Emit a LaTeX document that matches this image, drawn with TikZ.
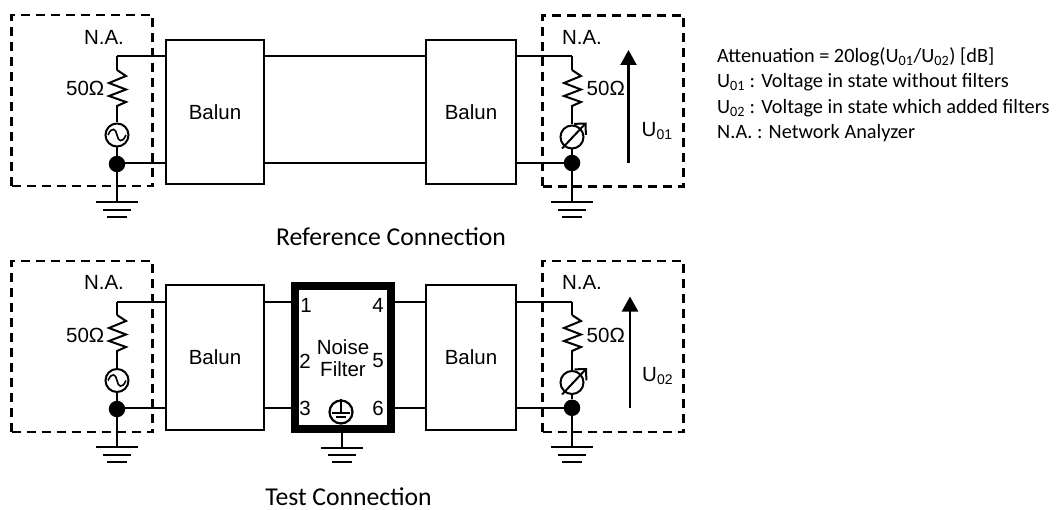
\documentclass[tikz,border=0pt]{standalone}
\usepackage{fontspec}
\setmainfont{Liberation Sans}
\newfontfamily\calibri{Carlito}
\usetikzlibrary{arrows.meta,calc}
\tikzset{
  x=1pt,y=-1pt,
  wire/.style={draw=black,line width=2pt},
  nabox/.style={draw=black,line width=2.4pt,dash pattern=on 9pt off 6pt,fill=none,inner sep=0pt,minimum width=141pt,minimum height=171pt},
  balunbox/.style={draw=black,line width=2.3pt,fill=white,inner sep=0pt,minimum height=144.5pt,font=\fontsize{20.5}{24}\selectfont},
  filterbox/.style={draw=black,line width=8pt,fill=white,inner sep=0pt,minimum width=96pt,minimum height=143pt},
  lab/.style={inner sep=0pt,font=\fontsize{20.5}{24}\selectfont},
  caption/.style={inner sep=0pt,font=\calibri\fontsize{25.7}{30}\selectfont},
  srcnode/.style={circle,draw=black,line width=2pt,fill=white,minimum size=23pt,inner sep=0pt},
  dot/.style={circle,fill=black,minimum size=16.5pt,inner sep=0pt},
  gnd/.pic={
    \draw[wire] (-21,0)--(21,0);
    \draw[wire] (-14,7.5)--(14,7.5);
    \draw[wire] (-10,14.5)--(10,14.5);
  },
  sinewave/.pic={\draw[line width=1.6pt] (-9,0) .. controls (-5,-9) and (-1,-6) .. (0,0) .. controls (1,6) and (5,9) .. (9,0);},
  resist/.pic={\draw[wire,line join=miter] (0,0)--(9,6)--(-8,13)--(9,19.5)--(-8,26)--(9,32)--(0,36)--(0,38);},
  upperarrow/.style={line width=2.3pt,-{Triangle[length=15pt,width=16pt]}},
  meterarrow/.style={line width=2pt,-{Straight Barb[length=8pt,width=16pt,line width=2pt]}},
}
\newcommand{\sourcebranch}[6]{%
  \coordinate (#1top) at (#2,#3);
  \coordinate (#1rt) at (#2,#6);
  \coordinate (#1rb) at (#2,{#6+38});
  \node[srcnode] (#1src) at (#2,{#6+#5}) {};
  \node[dot] (#1dot) at (#2,#4) {};
  \coordinate (#1g) at (#2,{#6+132.3});
  \draw[wire] (#1top)--(#1rt);
  \pic at (#1rt) {resist};
  \draw[wire] (#1rb)--(#1src);
  \draw[wire] (#1src)--(#1dot);
  \draw[wire] (#1dot)--(#1g);
  \pic at (#1g) {gnd};
}
\begin{document}
\begin{tikzpicture}
\useasboundingbox (0,0) rectangle (1056,510);
\fill[white] (0,0) rectangle (1056,510);

% --- top row
\coordinate (wAt) at (0,55.8);
\coordinate (wAb) at (0,162.7);
\node[nabox] (naA) at (82,100.5) {};
\node[nabox] (naB) at (613,101) {};
\node[balunbox,minimum width=97.5pt] (balA) at (215,112) {Balun};
\node[balunbox,minimum width=90.5pt] (balB) at (471,112) {Balun};
\sourcebranch{a}{117}{55.8}{164}{65}{70}
\sourcebranch{b}{572}{55.8}{163}{67}{70}
\draw[wire] (atop)--(atop-|balA.west);
\draw[wire] (wAb-|adot)--(wAb-|balA.west);
\draw[wire] (balA.east|-wAt)--(balB.west|-wAt);
\draw[wire] (balA.east|-wAb)--(balB.west|-wAb);
\draw[wire] (balB.east|-btop)--(btop);
\draw[wire] (balB.east|-wAb)--(wAb-|bdot);
\pic at (asrc) {sinewave};
\draw[meterarrow] ($(bsrc)+(-10,11.5)$) -- ($(bsrc)+(14.5,-14.5)$);
\node[lab] (naAl) at (104,37) {N.A.};
\node[lab] (naBl) at (582,37) {N.A.};
\node[lab,anchor=east] (rA) at (104.5,88) {50Ω};
\node[lab,anchor=west] (rB) at (586.5,88) {50Ω};
\coordinate (uAb) at (628.5,163);
\coordinate (uAt) at (628.5,50);
\draw[upperarrow] (uAb)--(uAt);
\node[lab,anchor=west] (uA) at (641.5,131) {U\textsubscript{\fontsize{14}{14}\selectfont 01}};
\node[caption] (capA) at (391,237) {Reference Connection};

% --- bottom row
\coordinate (wCt) at (0,301.8);
\coordinate (wCb) at (0,407.8);
\node[nabox] (naC) at (82,346.3) {};
\node[nabox] (naD) at (613,346.3) {};
\node[balunbox,minimum width=97.5pt] (balC) at (215,357.5) {Balun};
\node[balunbox,minimum width=90.5pt] (balD) at (471,357.5) {Balun};
\node[filterbox] (flt) at (343,357.5) {};
\sourcebranch{c}{117}{301.8}{409}{65.5}{315}
\sourcebranch{d}{572}{301.8}{407.8}{67.5}{315}
\draw[wire] (ctop)--(ctop-|balC.west);
\draw[wire] (wCb-|cdot)--(wCb-|balC.west);
\draw[wire] (balC.east|-wCt)--(flt.west|-wCt);
\draw[wire] (balC.east|-wCb)--(flt.west|-wCb);
\draw[wire] (flt.east|-wCt)--(balD.west|-wCt);
\draw[wire] (flt.east|-wCb)--(balD.west|-wCb);
\draw[wire] (balD.east|-dtop)--(dtop);
\draw[wire] (balD.east|-wCb)--(wCb-|ddot);
\pic at (csrc) {sinewave};
\draw[meterarrow] ($(dsrc)+(-10,12)$) -- ($(dsrc)+(15,-14.5)$);
\coordinate (fg) at (342,447.7);
\draw[wire] (flt.south-|fg)--(fg);
\pic at (fg) {gnd};
\node[lab] (naCl) at (104,282) {N.A.};
\node[lab] (naDl) at (582,282) {N.A.};
\node[lab,anchor=east] (rC) at (104.5,335) {50Ω};
\node[lab,anchor=west] (rD) at (586.5,335) {50Ω};
\coordinate (uBb) at (630,408);
\coordinate (uBt) at (630,296.5);
\draw[upperarrow] (uBb)--(uBt);
\node[lab,anchor=west] (uB) at (642,376) {U\textsubscript{\fontsize{14}{14}\selectfont 02}};
\node[caption] (capB) at (348.5,497) {Test Connection};

% filter labels
\node[lab] (p1) at (306,305) {1};
\node[lab] (p2) at (305,361) {2};
\node[lab] (p3) at (305,408) {3};
\node[lab] (p4) at (378,305) {4};
\node[lab] (p5) at (378,361) {5};
\node[lab] (p6) at (378,408) {6};
\node[lab,align=center,font=\fontsize{20.5}{22}\selectfont] (nf) at (343,358) {Noise\\Filter};
\node[circle,draw=black,line width=2.2pt,minimum size=23pt,inner sep=0pt] (fe) at (341,412) {};
\draw[line width=1.8pt] (fe.north)--(fe.center);
\draw[line width=2.6pt] ($(fe.center)+(-9,1)$)--($(fe.center)+(9,1)$);
\draw[line width=2pt] ($(fe.center)+(-5,5)$)--($(fe.center)+(5,5)$);

% legend
\node[anchor=north west,inner sep=0pt,align=left,font=\calibri\fontsize{20.3}{25.3}\selectfont] (legend) at (717,47.5) {%
Attenuation = 20log(U\textsubscript{01}/U\textsubscript{02}) [dB]\\
U\textsubscript{01} : Voltage in state without filters\\
U\textsubscript{02} : Voltage in state which added filters\\
N.A. : Network Analyzer};
\end{tikzpicture}
\end{document}
